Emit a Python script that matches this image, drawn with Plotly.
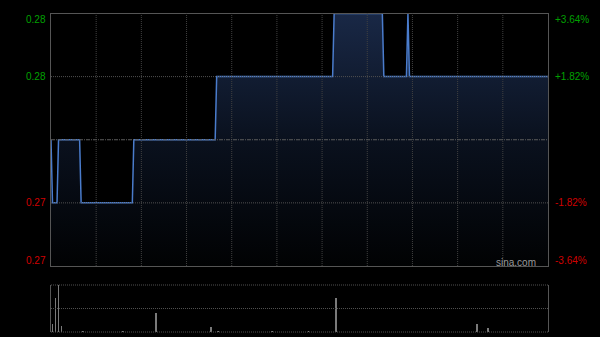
import plotly.graph_objects as go

# ---- data ----
pre_close = 0.275
price_minutes = [0, 1, 4, 5, 19, 20, 54, 55, 109, 110, 187, 188, 220, 221, 236, 237, 238, 330]
price_values = [0.275, 0.27, 0.27, 0.275, 0.275, 0.27, 0.27, 0.275, 0.275, 0.28,
                0.28, 0.285, 0.285, 0.28, 0.28, 0.285, 0.28, 0.28]

vol_minutes = [1, 3, 5, 7, 21, 48, 70, 106, 111, 147, 171, 189, 283, 290]
vol_values = [170000, 730000, 1000000, 130000, 20000, 20000, 400000, 100000,
              20000, 20000, 20000, 720000, 180000, 85000]

left_labels = ["0.28", "0.28", "0.27", "0.27"]
left_values = [0.285, 0.28, 0.27, 0.265]
right_labels = ["+3.64%", "+1.82%", "-1.82%", "-3.64%"]
label_colors = ["#00a000", "#00a000", "#d00000", "#d00000"]
label_shifts = [-5.5, 0, 0, 6]

grid_minutes = [30, 60, 90, 120, 150, 180, 210, 240, 270, 300]
grid_prices = [0.27, 0.28]
total_minutes = 330
y_min, y_max = 0.265, 0.285

fig = go.Figure()

fig.add_trace(go.Scatter(
    x=price_minutes, y=price_values, mode="lines",
    line=dict(color="#4a7ccc", width=1.5),
    fill="tozeroy",
    fillgradient=dict(type="vertical", start=y_min, stop=y_max,
                      colorscale=[[0, "#010203"], [0.5, "#0a111e"], [1, "#192846"]]),
    hoverinfo="skip", showlegend=False, xaxis="x", yaxis="y"))

fig.add_trace(go.Bar(
    x=vol_minutes, y=vol_values, width=0.6,
    marker=dict(color="#7a7a7a", line=dict(width=0)),
    hoverinfo="skip", showlegend=False, xaxis="x2", yaxis="y2"))

x_dom = [51 / 600, 548 / 600]
fig.update_layout(
    width=600, height=337,
    margin=dict(l=0, r=0, t=0, b=0),
    paper_bgcolor="#000000", plot_bgcolor="#000000",
    font=dict(family="Liberation Sans, Arial", size=10),
    xaxis=dict(domain=x_dom, range=[0, total_minutes], showticklabels=False,
               ticks="", showgrid=False, zeroline=False,
               showline=True, mirror=True, linecolor="#555555", linewidth=1),
    yaxis=dict(domain=[1 - 266 / 337, 1 - 13.5 / 337], range=[y_min, y_max],
               showticklabels=False, ticks="", showgrid=False, zeroline=False,
               showline=True, mirror=True, linecolor="#555555", linewidth=1),
    xaxis2=dict(domain=x_dom, range=[0, total_minutes], showticklabels=False,
                ticks="", showgrid=False, zeroline=False, showline=False,
                anchor="y2"),
    yaxis2=dict(domain=[1 - 332 / 337, 1 - 285 / 337], range=[0, max(vol_values)],
                showticklabels=False, ticks="", showgrid=False, zeroline=False,
                showline=True, mirror=True, linecolor="#555555", linewidth=1,
                anchor="x2"),
    bargap=0,
)

# grid lines drawn above the fill
for m in grid_minutes:
    fig.add_shape(type="line", xref="x", yref="y domain", x0=m, x1=m, y0=0, y1=1,
                  line=dict(color="#404040", width=1, dash="1px,1px"), layer="above")
for p in grid_prices:
    fig.add_shape(type="line", xref="x domain", yref="y", x0=0, x1=1, y0=p, y1=p,
                  line=dict(color="#505050", width=1, dash="1px,1px"), layer="above")
# pre-close reference line
fig.add_shape(type="line", xref="x domain", yref="y", x0=0, x1=1,
              y0=pre_close, y1=pre_close,
              line=dict(color="#5c5c5c", width=1, dash="4px,1px,1px,1px"), layer="above")
# volume panel dotted lines (top, middle, bottom)
for yy in [0, 0.5, 1]:
    fig.add_shape(type="line", xref="x2 domain", yref="y2 domain", x0=0, x1=1,
                  y0=yy, y1=yy, line=dict(color="#505050", width=1, dash="1px,1px"))

for lab, val, col, sh in zip(left_labels, left_values, label_colors, label_shifts):
    fig.add_annotation(text=lab, xref="paper", x=48 / 600, xanchor="right",
                       yref="y", y=val, yanchor="middle", yshift=sh,
                       showarrow=False, font=dict(color=col, size=10))
for lab, val, col, sh in zip(right_labels, left_values, label_colors, label_shifts):
    fig.add_annotation(text=lab, xref="paper", x=553 / 600, xanchor="left",
                       yref="y", y=val, yanchor="middle", yshift=sh,
                       showarrow=False, font=dict(color=col, size=10))

fig.add_annotation(text="sina.com", xref="paper", x=538 / 600, xanchor="right",
                   yref="paper", y=1 - 262 / 337, yanchor="middle",
                   showarrow=False, font=dict(color="#9a9a9a", size=10))

fig.write_html("out.html")
